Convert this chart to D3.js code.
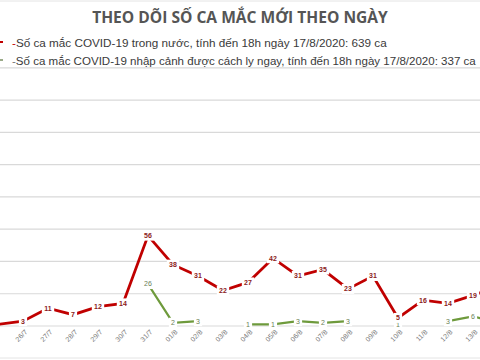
<!DOCTYPE html>
<html><head><meta charset="utf-8">
<script src="https://cdn.jsdelivr.net/npm/d3@7/dist/d3.min.js"></script>
<style>body{margin:0;background:#fff}svg{display:block}</style>
</head><body>
<svg id="c" width="480" height="360"></svg>
<script>
const dates = ["25/7","26/7","27/7","28/7","29/7","30/7","31/7","01/8","02/8","03/8","04/8","05/8","06/8","07/8","08/8","09/8","10/8","11/8","12/8","13/8","14/8"];
const visibleDates = ["26/7","27/7","28/7","29/7","30/7","31/7","01/8","02/8","03/8","04/8","05/8","06/8","07/8","08/8","09/8","10/8","11/8","12/8","13/8"];
const domestic = [1,3,11,7,12,14,56,38,31,22,27,42,31,35,23,31,5,16,14,19,25];
const imported = [null,null,null,null,null,null,26,2,3,null,1,1,3,2,3,null,1,null,3,6,2];
const yTicks = [0,20,40,60,80,100,120,140,160];
const title = "THEO DÕI SỐ CA MẮC MỚI THEO NGÀY";
const legend1 = "Số ca mắc COVID-19 trong nước, tính đến 18h ngày 17/8/2020: 639 ca";
const legend2 = "Số ca mắc COVID-19 nhập cảnh được cách ly ngay, tính đến 18h ngày 17/8/2020: 337 ca";

const svg = d3.select("#c");
const red = "#c00000", green = "#6e9a3c";
const x = d3.scalePoint().domain(dates).range([-2, 498]);
const y = d3.scaleLinear().domain([0,160]).range([326, 67.8]);

// borders
svg.append("line").attr("x1",0).attr("x2",480).attr("y1",1).attr("y2",1).attr("stroke","#e4e4e4");
svg.append("line").attr("x1",0).attr("x2",480).attr("y1",358).attr("y2",358).attr("stroke","#e4e4e4");

// gridlines
svg.append("g").selectAll("line").data(yTicks).join("line")
  .attr("x1",0).attr("x2",480)
  .attr("y1",d=>y(d)).attr("y2",d=>y(d))
  .attr("stroke","#d9d9d9").attr("stroke-width",1.2);

function fitFont(sel, target, base){
  const w = sel.node().getComputedTextLength();
  sel.attr("font-size", base*target/w);
}

// title
const tt = svg.append("text").attr("x",240).attr("y",23).attr("text-anchor","middle")
  .attr("font-family","Open Sans, sans-serif").attr("font-weight","bold")
  .attr("font-size",16).attr("fill","#555")
  .text(title);
fitFont(tt, 296, 16);
tt.attr("font-size", Math.min(+tt.attr("font-size"), 17));

// legend
function legendRow(yy, color, txt, len, dashColor){
  svg.append("line").attr("x1",-10).attr("x2",3).attr("y1",yy).attr("y2",yy)
    .attr("stroke",color).attr("stroke-width",2);
  const t = svg.append("text").attr("x",12).attr("y",yy+4.5)
    .attr("font-family","Liberation Sans, Arial, sans-serif").attr("font-size",12.8)
    .attr("fill","#3a3a3a");
  t.append("tspan").attr("fill",dashColor).text("-");
  t.append("tspan").text(txt);
  fitFont(t, len, 12.8);
}
legendRow(42, red, legend1, 375, red);
legendRow(60, "#9aaa88", legend2, 464, "#777");

// x axis labels
const axis = d3.axisBottom(x).tickValues(visibleDates).tickSize(0).tickPadding(0);
const ax = svg.append("g").attr("transform","translate(0,331)").call(axis);
ax.select(".domain").remove();
ax.selectAll("text")
  .attr("font-family","Liberation Sans, Arial, sans-serif").attr("font-size",7)
  .attr("fill","#777").attr("text-anchor","end")
  .attr("dy","0.3em").attr("dx","0")
  .attr("transform","translate(3,0) rotate(-45)");

// lines
const lineGen = d3.line().defined(d=>d.v!=null).x(d=>x(d.d)).y(d=>y(d.v));
const dom = dates.map((d,i)=>({d, v:domestic[i]}));
const imp = dates.map((d,i)=>({d, v:imported[i]}));
svg.append("path").datum(imp).attr("d",lineGen).attr("fill","none")
  .attr("stroke",green).attr("stroke-width",2.2);
svg.append("path").datum(dom).attr("d",lineGen).attr("fill","none")
  .attr("stroke",red).attr("stroke-width",2.8);

// labels
function labels(data, color, bold){
  const g = svg.append("g");
  const items = data.filter(d=>d.v!=null && visibleDates.includes(d.d));
  const grp = g.selectAll("g").data(items).join("g")
    .attr("transform",d=>`translate(${x(d.d)},${y(d.v)})`);
  const w = d => String(d.v).length*4.2+4;
  grp.append("rect").attr("x",d=>-w(d)/2).attr("y",-5).attr("width",w).attr("height",10).attr("fill","#fff");
  grp.append("text").attr("text-anchor","middle").attr("dy","0.35em")
    .attr("font-family","Liberation Sans, Arial, sans-serif").attr("font-size",7)
    .attr("font-weight",bold?"bold":"normal").attr("fill",color).text(d=>d.v);
}
labels(imp, "#6b7f55", false);
labels(dom, "#8b1a1a", true);
</script>
</body></html>
